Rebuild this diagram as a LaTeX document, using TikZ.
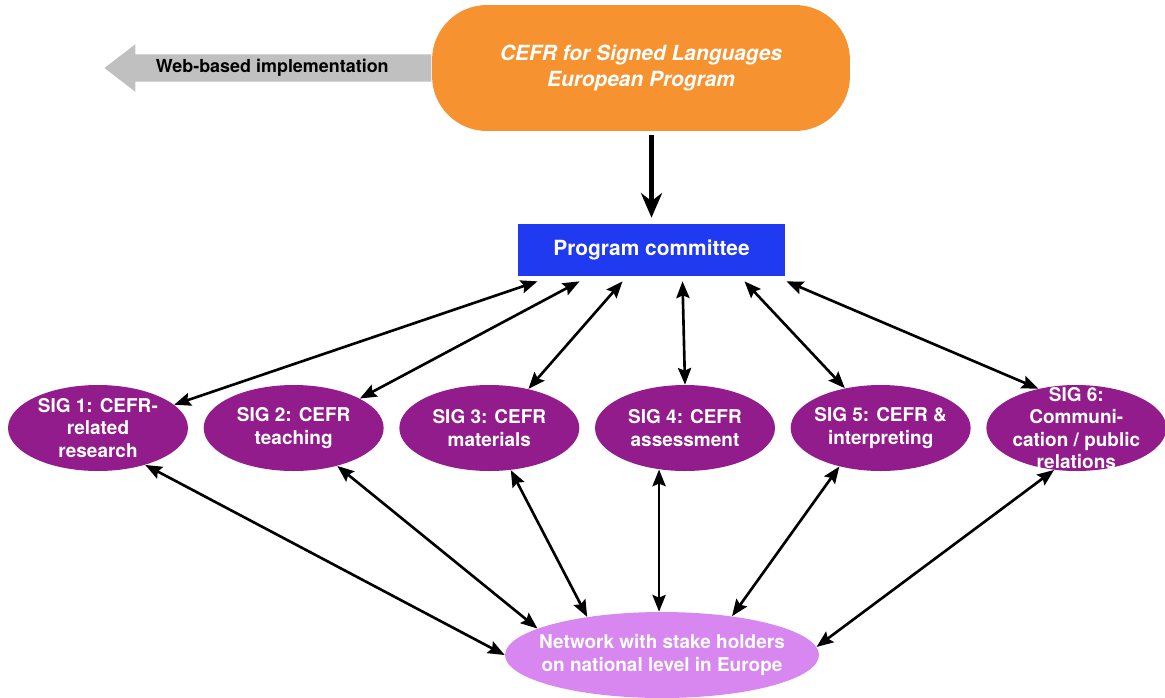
\documentclass[tikz,border=0pt]{standalone}
\usepackage{fontspec}
\setmainfont{TeX Gyre Heros}
\usepackage{tikz}
\usetikzlibrary{positioning,arrows.meta,shapes.geometric,shapes.arrows}

\definecolor{progorange}{RGB}{247,146,48}
\definecolor{pcblue}{RGB}{32,58,242}
\definecolor{sigpurple}{RGB}{146,28,140}
\definecolor{netlilac}{RGB}{216,134,240}
\definecolor{webgray}{RGB}{192,192,192}

\begin{document}
\begin{tikzpicture}[x=0.02cm,y=-0.02cm,
                    biarrow/.style={{Stealth[length=9.5pt,width=7.5pt,inset=1.5pt]}-{Stealth[length=9.5pt,width=7.5pt,inset=1.5pt]},line width=1.5pt},
                    bigarrow/.style={-{Stealth[length=14pt,width=12pt]},line width=2.4pt},
                    blobtext/.style={text=white,align=center,font=\bfseries\fontsize{10.8}{12.6}\selectfont},
                    blob/.style={ellipse,label={[blobtext]center:{#1}}},
                    sig/.style={blob=#1,fill=sigpurple,minimum width=3.6cm,minimum height=1.72cm}]
  \useasboundingbox (0,0) rectangle (1165,697);

  \node[fill=progorange,rounded corners=1.1cm,minimum width=8.36cm,minimum height=2.52cm,
        text=white,align=center,font=\bfseries\itshape\fontsize{11.9}{14.8}\selectfont]
        (top) at (641,68) {CEFR for Signed Languages\\European Program};
  \node[single arrow,shape border rotate=180,fill=webgray,single arrow head extend=0.2cm,
        single arrow tip angle=75,minimum height=6.54cm,inner ysep=2.7pt,
        font=\bfseries\fontsize{10.2}{12}\selectfont,anchor=tail]
        (web) at (top.west) {\hspace*{-0.18cm}Web-based implementation};

  \node[fill=pcblue,minimum width=5.34cm,minimum height=1.04cm,text=white,
        font=\bfseries\fontsize{11.9}{14}\selectfont]
        (pc) at (651.5,250) {Program committee};

  \node[sig={SIG 1: CEFR-\\related\\research}]         (sig1) at (98,428) {};
  \node[sig={SIG 2: CEFR\\teaching}]                   (sig2) [right=0.3cm of sig1] {};
  \node[sig={SIG 3: CEFR\\materials}]                  (sig3) [right=0.3cm of sig2] {};
  \node[sig={SIG 4: CEFR\\assessment}]                 (sig4) [right=0.3cm of sig3] {};
  \node[sig={SIG 5: CEFR \&\\interpreting}]            (sig5) [right=0.3cm of sig4] {};
  \node[sig={SIG 6:\\Communi-\\cation / public\\relations}] (sig6) [right=0.3cm of sig5] {};

  \node[blob={Network with stake holders\\on national level in Europe},fill=netlilac,
        minimum width=6.28cm,minimum height=1.72cm] (net) at (662,655) {};

  \draw[bigarrow,shorten <=2.3pt,shorten >=3.4pt] (pc.north |- top.south) -- (pc.north);

  \foreach \i/\dx/\a in {1/-2.28/17,2/-1.44/24,3/-0.58/45,4/0.62/90,5/1.86/132,6/2.70/134}
    \draw[biarrow] ([xshift=\dx cm,yshift=-0.1cm]pc.south) -- (sig\i.\a);

  \foreach \i/\a/\b in {1/-38/180,2/-41/168,3/-63/153,5/-137/29,6/-118/3}
    \draw[biarrow] (sig\i.\a) -- (net.\b);
  \draw[biarrow] (sig4.-122) -- (sig4.-122 |- net.north);
\end{tikzpicture}
\end{document}
